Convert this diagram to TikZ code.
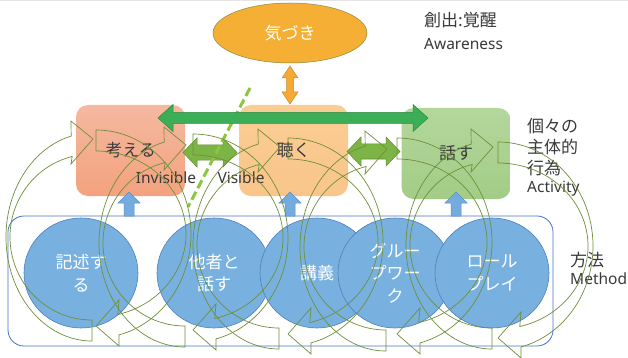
\documentclass[tikz,border=0pt]{standalone}
\usepackage{fontspec}
\setmainfont{Noto Sans CJK JP}
\newfontfamily\latinfont{Noto Sans}
\usetikzlibrary{shapes.geometric}
\definecolor{arcc}{HTML}{6F8F3A}
\definecolor{txt}{HTML}{3A3A3A}
\definecolor{ellf}{HTML}{F5AF35}
\definecolor{ellb}{HTML}{8A8A40}
\definecolor{orar}{HTML}{F6A935}
\definecolor{orarb}{HTML}{C98A2C}
\definecolor{bgreen}{HTML}{3BAE57}
\definecolor{bgreenb}{HTML}{2D8A44}
\definecolor{sgreen}{HTML}{7CB545}
\definecolor{sgreenb}{HTML}{5E8E31}
\definecolor{dgreen}{HTML}{8DC540}
\definecolor{boxat}{HTML}{F5B8A0}
\definecolor{boxab}{HTML}{F3A27E}
\definecolor{boxbt}{HTML}{FACD95}
\definecolor{boxbb}{HTML}{F9C58A}
\definecolor{boxct}{HTML}{B4D79D}
\definecolor{boxcb}{HTML}{A2CC86}
\definecolor{circf}{HTML}{78B1DF}
\definecolor{circb}{HTML}{4F7EBB}
\definecolor{blar}{HTML}{74ACDF}
\definecolor{blarb}{HTML}{5B8FC8}
\definecolor{rectb}{HTML}{4472C4}
\tikzset{
  arcline/.style={draw=arcc, line width=0.7pt, line join=miter},
  rbox/.style={rounded corners=12pt, inner sep=0pt, text=txt, minimum width=109pt, minimum height=91pt, font=\fontsize{17pt}{21pt}\selectfont},
  mcirc/.style={ellipse, fill=circf, draw=circb, line width=0.6pt, minimum width=114pt, minimum height=110pt, inner sep=0pt, text=white, align=center, font=\fontsize{17pt}{22.5pt}\selectfont},
  lbl/.style={inner sep=0pt, text=txt, font=\fontsize{17pt}{21pt}\selectfont},
  elbl/.style={inner sep=0pt, text=txt, font=\latinfont\fontsize{15.5pt}{21pt}\selectfont},
  blockg/.style={fill=bgreen, draw=bgreenb, line width=0.5pt},
  blocks/.style={fill=sgreen, draw=sgreenb, line width=0.5pt},
  blocko/.style={fill=orar, draw=orarb, line width=0.5pt},
  blockb/.style={fill=blar, draw=blarb, line width=0.5pt},
}
% circular arrow, left half: tail at bottom, head at top pointing right
\newcommand{\ringA}[2]{%
  \draw[arcline] (#1,#2+104) arc[start angle=90,end angle=256,x radius=86,y radius=104]
    -- (#1-21,#2-116) -- (#1+1,#2-98) -- (#1-21,#2-73)
    -- ({#1+82*cos(256)},{#2+83*sin(256)})
    arc[start angle=256,end angle=90,x radius=82,y radius=83] -- cycle;}
% circular arrow, right half: tail at top, head at bottom pointing left
\newcommand{\ringB}[2]{%
  \draw[arcline] (#1,#2-104) arc[start angle=-90,end angle=76,x radius=95,y radius=104]
    -- (#1+23,#2+112) -- (#1,#2+92) -- (#1+23,#2+66)
    -- ({#1+90*cos(76)},{#2+83*sin(76)})
    arc[start angle=76,end angle=-90,x radius=90,y radius=83] -- cycle;}
% horizontal double block arrow: style, x1, x2, yc, head half, shaft half, head length
\newcommand{\dblharrow}[7]{%
  \draw[#1] (#2,#4) -- (#2+#7,#4-#5) -- (#2+#7,#4-#6) -- (#3-#7,#4-#6) -- (#3-#7,#4-#5)
    -- (#3,#4) -- (#3-#7,#4+#5) -- (#3-#7,#4+#6) -- (#2+#7,#4+#6) -- (#2+#7,#4+#5) -- cycle;}
% blue up block arrow: x centre
\newcommand{\bluearrowup}[1]{%
  \draw[blockb] (#1,192) -- (#1+11,203) -- (#1+5,203) -- (#1+5,216) -- (#1-5,216) -- (#1-5,203) -- (#1-11,203) -- cycle;}
\begin{document}
\begin{tikzpicture}[x=1pt,y=-1pt]
\useasboundingbox (0,0) rectangle (628,358);
\fill[white] (0,0) rectangle (628,358);
\fill[black!10] (0,0) rectangle (628,1.2);
% boxes
\node[rbox, top color=boxat, bottom color=boxab] (think) at (130.5,150.5) {考える};
\node[rbox, top color=boxbt, bottom color=boxbb] (listen) at (293.5,150.5) {聴く};
\node[rbox, top color=boxct, bottom color=boxcb] (speak) at (456,153.5) {話す};
% awareness ellipse
\node[ellipse, fill=ellf, draw=ellb, line width=0.5pt, minimum width=154pt, minimum height=60pt, inner sep=0pt, text=white, font=\fontsize{17pt}{21pt}\selectfont] (aware) at (290,33) {気づき};
% orange vertical double arrow
\draw[blocko] (290,66) -- (298,78) -- (293.5,78) -- (293.5,92) -- (298,92) -- (290,104)
  -- (282,92) -- (286.5,92) -- (286.5,78) -- (282,78) -- cycle;
% methods frame
\node[draw=rectb, line width=0.8pt, fill=white, rounded corners=16pt, minimum width=545pt, minimum height=130pt, inner sep=0pt] (methods) at (280.5,281) {};
% method circles
\node[mcirc] (m1) at (81,273) {記述す\\る};
\node[mcirc] (m2) at (214,273) {他者と\\話す};
\node[mcirc] (m3) at (317,273) {講義};
\node[mcirc] (m4) at (395,273) {グルー\\プワー\\ク};
\node[mcirc] (m5) at (492,273) {ロール\\プレイ};
% blue up arrows
\bluearrowup{129}
\bluearrowup{290}
\bluearrowup{456}
% small green double arrows
\dblharrow{blocks}{183}{237}{152.5}{14.5}{7.5}{14}
\dblharrow{blocks}{347}{400}{151.5}{14.5}{7.5}{14}
% dashed line
\coordinate (dA) at (250,88);
\coordinate (dB) at (188,207);
\draw[dgreen, line width=3pt, dash pattern=on 9pt off 4pt] (dA) -- (dB);
% big green double arrow
\dblharrow{blockg}{158}{428}{118}{13.5}{5.5}{15}
% labels
\node[elbl] (inv) at (166,178) {Invisible};
\node[elbl] (vis) at (241,178) {Visible};
\node[lbl, anchor=west] (t1) at (424,20) {創出:覚醒};
\node[elbl, anchor=west] (t2) at (424,44) {Awareness};
\node[lbl, anchor=west] (r1) at (527,126) {個々の};
\node[lbl, anchor=west] (r2) at (527,147) {主体的};
\node[lbl, anchor=west] (r3) at (527,168) {行為};
\node[elbl, anchor=west] (r4) at (527,189) {Activity};
\node[lbl, anchor=west] (h1) at (570,260) {方法};
\node[elbl, anchor=west] (h2) at (570,279) {Method};
% circular arrows
\ringA{92}{237}
\ringA{185}{243}
\ringA{279}{245}
\ringA{386}{247}
\ringA{492}{245}
\ringB{96}{234}
\ringB{193}{238}
\ringB{288}{242}
\ringB{397}{242}
\ringB{498}{246}
\end{tikzpicture}
\end{document}
